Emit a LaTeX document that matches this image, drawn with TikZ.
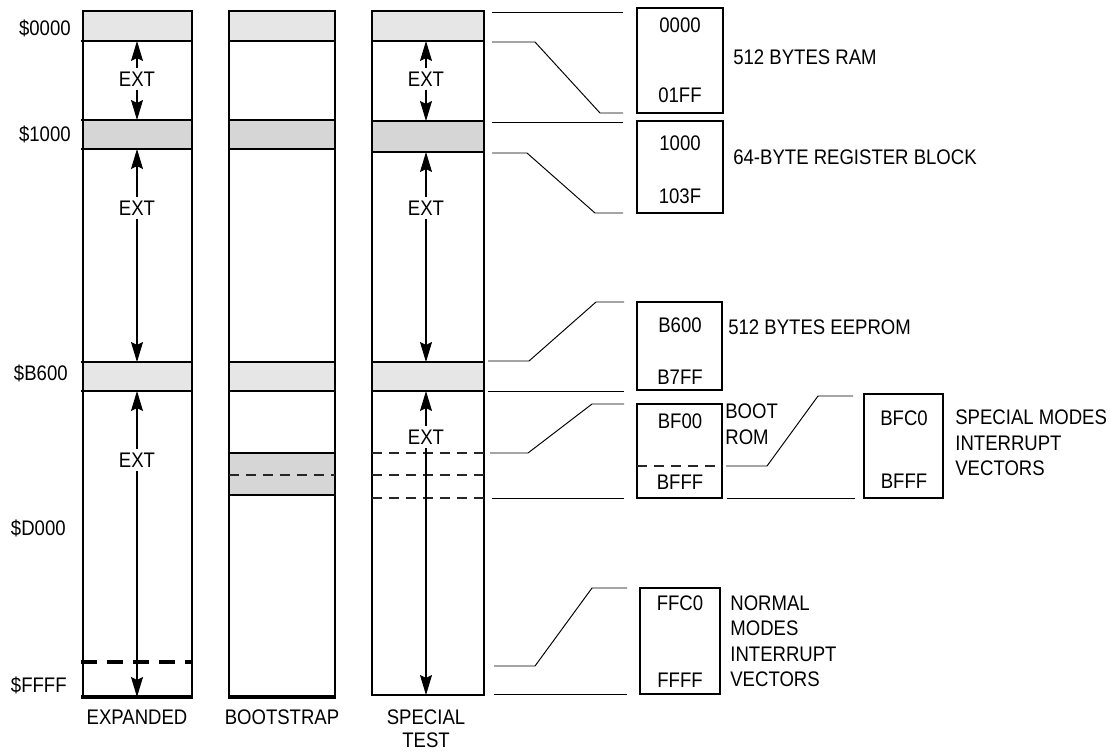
\documentclass[tikz,border=0pt]{standalone}
\usepackage{fontspec}
\setmainfont[FakeStretch=0.88]{Liberation Sans}
\usetikzlibrary{arrows.meta}
\definecolor{mapband}{RGB}{230,230,230}
\definecolor{mapdots}{RGB}{214,214,214}
\tikzset{
  mapbase/.style={font={\fontsize{12}{14.5}\selectfont}, x=0.02cm, y=-0.02cm},
  mapwall/.style={draw=black,line width=0.7pt},
  mapthick/.style={draw=black,line width=1.8pt},
  mapdash/.style={draw=black,line width=1.8pt,dash pattern=on 0.32cm off 0.2cm},
  mapfine/.style={draw=black!85,line width=0.6pt,dash pattern=on 0.2cm off 0.14cm},
  maplead/.style={draw=black,line width=0.55pt},
  mapbox/.style={draw=black,line width=0.7pt},
  mapext/.style={draw=black,line width=0.6pt,-{Stealth[length=0.4cm,width=0.24cm,inset=0.06cm]}},
  mapaddr/.style={anchor=east,inner sep=0pt},
  mapnote/.style={anchor=west,inner sep=0pt,align=left},
  mapcell/.style={inner sep=0pt},
  mapextlabel/.style={inner sep=2pt}
}

\begin{document}
\begin{tikzpicture}[mapbase]
\useasboundingbox (0,0) rectangle (1111,751);
\node[mapaddr] (a0000) at (71,28) {\$0000};
\node[mapaddr] (a1000) at (71,134) {\$1000};
\node[mapaddr] (ab600) at (68,373) {\$B600};
\node[mapaddr] (ad000) at (66,528) {\$D000};
\node[mapaddr] (affff) at (67,685) {\$FFFF};
\fill[mapband] (83,11) rectangle (192,41);
\fill[mapdots] (83,120) rectangle (192,149);
\fill[mapband] (83,362) rectangle (192,391);
\draw[mapwall] (83,11) rectangle (192,697);
\foreach \y in {41,120,149,362,391} \draw[mapwall] (81,\y) -- (193,\y);
\draw[mapdash] (81,662) -- (193,662);
\draw[mapthick] (81,697) -- (193,697);
\node[mapextlabel] (ext1) at (137,79) {EXT};
\node[mapextlabel] (ext2) at (137,208) {EXT};
\node[mapextlabel] (ext3) at (137,460) {EXT};
\draw[mapext] (ext1) -- (137,41);
\draw[mapext] (ext1) -- (137,120);
\draw[mapext] (ext2) -- (137,149);
\draw[mapext] (ext2) -- (137,362);
\draw[mapext] (ext3) -- (137,391);
\draw[mapext] (ext3) -- (137,697);
\node (expanded) at (137,717) {EXPANDED};
\fill[mapband] (229,11) rectangle (335,41);
\fill[mapdots] (229,120) rectangle (335,149);
\fill[mapband] (229,362) rectangle (335,391);
\fill[mapdots] (229,453) rectangle (335,495);
\draw[mapwall] (229,11) rectangle (335,697);
\foreach \y in {41,120,149,362,391,453,495} \draw[mapwall] (228,\y) -- (336,\y);
\draw[mapfine] (229,475) -- (335,475);
\draw[mapthick] (228,697) -- (336,697);
\node (bootstrap) at (282,717) {BOOTSTRAP};
\fill[mapband] (372,11) rectangle (484,41);
\fill[mapdots] (372,121) rectangle (484,152);
\fill[mapband] (372,362) rectangle (484,391);
\draw[mapwall] (372,11) rectangle (484,695);
\draw[draw=black,line width=1.2pt] (372,41) -- (484,41);
\foreach \y in {121,152,362,391} \draw[mapwall] (372,\y) -- (484,\y);
\foreach \y in {453,475,498} \draw[mapfine] (372,\y) -- (490,\y);
\node[mapextlabel] (ext4) at (426,79) {EXT};
\node[mapextlabel] (ext5) at (426,208) {EXT};
\node[mapextlabel] (ext6) at (426,437) {EXT};
\draw[mapext] (ext4) -- (426,41);
\draw[mapext] (ext4) -- (426,121);
\draw[mapext] (ext5) -- (426,152);
\draw[mapext] (ext5) -- (426,362);
\draw[mapext] (ext6) -- (426,391);
\draw[mapext] (ext6) -- (426,695);
\node[align=center,font={\fontsize{12}{13}\selectfont}] (special) at (426,729) {SPECIAL\\TEST};
\draw[maplead] (492,12) -- (623,12);
\draw[maplead] (492,42) -- (535,42) -- (600,113) -- (623,113);
\draw[maplead] (492,122) -- (623,122);
\draw[maplead] (492,153) -- (527,153) -- (595,213) -- (623,213);
\draw[maplead] (488,361) -- (529,361) -- (596,302) -- (624,302);
\draw[maplead] (488,391) -- (624,391);
\draw[maplead] (490,453) -- (528,453) -- (592,404) -- (624,404);
\draw[maplead] (492,498) -- (624,498);
\draw[maplead] (494,666) -- (535,666) -- (592,588) -- (627,588);
\draw[maplead] (494,694) -- (627,694);
\draw[mapbox] (637,8) rectangle (723,113);
\draw[mapbox] (637,121) rectangle (723,213);
\draw[mapbox] (637,302) rectangle (722,390);
\draw[mapbox] (637,404) rectangle (722,498);
\draw[mapbox] (864,394) rectangle (943,498);
\draw[mapbox] (640,588) rectangle (720,694);
\draw[mapfine] (637,466) -- (722,466);
\draw[maplead] (726,466) -- (767,466) -- (818,396) -- (853,396);
\draw[maplead] (727,498) -- (855,498);
\node[mapcell] (r0000) at (680,25) {0000};
\node[mapcell] (r01ff) at (680,95) {01FF};
\node[mapcell] (r1000) at (680,143) {1000};
\node[mapcell] (r103f) at (680,196) {103F};
\node[mapcell] (rb600) at (680,325) {B600};
\node[mapcell] (rb7ff) at (680,377) {B7FF};
\node[mapcell] (rbf00) at (680,421) {BF00};
\node[mapcell] (rbfff) at (680,482) {BFFF};
\node[mapcell] (rbfc0) at (904,418) {BFC0};
\node[mapcell] (rbfff2) at (904,481) {BFFF};
\node[mapcell] (rffc0) at (680,603) {FFC0};
\node[mapcell] (rffff) at (680,680) {FFFF};
\node[mapnote] (ram) at (733,57) {512 BYTES RAM};
\node[mapnote] (regs) at (733,157) {64-BYTE REGISTER BLOCK};
\node[mapnote] (eeprom) at (728,327) {512 BYTES EEPROM};
\node[mapnote] (bootrom) at (725,424) {BOOT\\ROM};
\node[mapnote] (specvec) at (955,443) {SPECIAL MODES\\INTERRUPT\\VECTORS};
\node[mapnote] (normvec) at (730,641) {NORMAL\\MODES\\INTERRUPT\\VECTORS};
\end{tikzpicture}
\end{document}
